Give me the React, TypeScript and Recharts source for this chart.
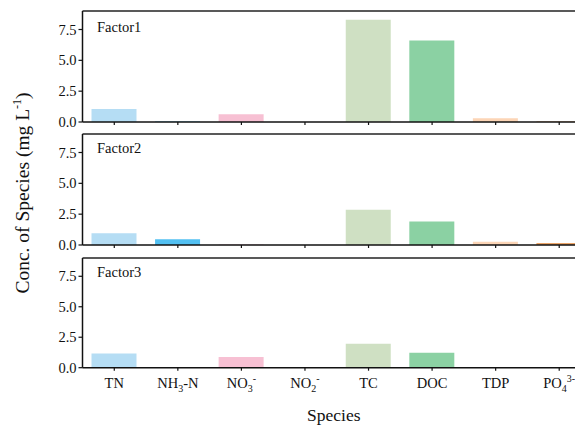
import React from 'react';
import { BarChart, Bar, XAxis, YAxis, Cell, ReferenceLine } from 'recharts';

const categories = ['TN', 'NH3-N', 'NO3-', 'NO2-', 'TC', 'DOC', 'TDP', 'PO43-'];
const factor1 = [1.06, 0.05, 0.63, 0, 8.29, 6.6, 0.3, 0.05];
const factor2 = [0.95, 0.46, 0.05, 0, 2.85, 1.9, 0.27, 0.17];
const factor3 = [1.17, 0, 0.87, 0.05, 1.96, 1.22, 0.03, 0.03];
const colors = ['#b5ddf4', '#52c0f2', '#f7c0d3', '#a3423f', '#cfe0c3', '#8bd1a3', '#fcd5b6', '#eba467'];
const yTicks = [0, 2.5, 5, 7.5];
const tickParts = [
  { base: 'TN' },
  { base: 'NH', sub: '3', rest: '-N' },
  { base: 'NO', sub: '3', sup: '-' },
  { base: 'NO', sub: '2', sup: '-' },
  { base: 'TC' },
  { base: 'DOC' },
  { base: 'TDP' },
  { base: 'PO', sub: '4', sup: '3-' },
];
const factorNames = ['Factor1', 'Factor2', 'Factor3'];

const FONT = 'Liberation Serif, Times New Roman, serif';

function SpeciesTick(props: any) {
  const { x, y, payload } = props;
  const idx = categories.indexOf(payload.value);
  const p: any = tickParts[idx] || { base: payload.value };
  return (
    <text x={x} y={y + 15} textAnchor="middle" fontFamily={FONT} fontSize={14.5} fill="#111">
      <tspan>{p.base}</tspan>
      {p.sub && <tspan fontSize={10} dy={4}>{p.sub}</tspan>}
      {p.rest && <tspan dy={-4}>{p.rest}</tspan>}
      {p.sup && <tspan fontSize={10} dy={-10}>{p.sup}</tspan>}
    </text>
  );
}

function Panel({ values, top, height, xHeight, showLabels }: any) {
  const data = categories.map((c, i) => ({ name: c, value: values[i] }));
  return (
    <div style={{ position: 'absolute', left: 0, top }}>
      <BarChart width={600} height={height} data={data} margin={{ top: 3, right: 17, left: 0, bottom: 0 }}>
        <XAxis
          dataKey="name"
          height={xHeight}
          interval={0}
          axisLine={{ stroke: '#111', strokeWidth: 1.5 }}
          tickLine={{ stroke: '#111', strokeWidth: 1.2 }}
          tickSize={3}
          tick={showLabels ? (p: any) => <SpeciesTick {...p} /> : () => <g />}
          label={showLabels ? { value: 'Species', position: 'insideBottom', offset: 4, fontFamily: FONT, fontSize: 17.5, fill: '#111', dx: -3 } : undefined}
        />
        <YAxis
          width={74.5}
          domain={[0, 9]}
          ticks={yTicks}
          interval={0}
          axisLine={{ stroke: '#111', strokeWidth: 1.5 }}
          tickLine={{ stroke: '#111', strokeWidth: 1.2 }}
          tickSize={4}
          tickFormatter={(v: number) => v.toFixed(1)}
          tick={{ fontFamily: FONT, fontSize: 14.5, fill: '#111' }}
        />
        <ReferenceLine y={9} stroke="#222" strokeWidth={1.5} />
        <Bar dataKey="value" barSize={45} isAnimationActive={false}>
          {data.map((d, i) => (
            <Cell key={d.name} fill={colors[i]} />
          ))}
        </Bar>
      </BarChart>
    </div>
  );
}

export default function App() {
  const panelTops = [0, 123, 247];
  return (
    <div style={{ position: 'relative', width: 575, height: 417, overflow: 'hidden', background: '#fff' }}>
      <Panel values={factor1} top={panelTops[0]} height={124} xHeight={10} showLabels={false} />
      <Panel values={factor2} top={panelTops[1]} height={124} xHeight={10} showLabels={false} />
      <Panel values={factor3} top={panelTops[2]} height={170} xHeight={57.3} showLabels={true} />
      <svg width={575} height={417} style={{ position: 'absolute', left: 0, top: 0, pointerEvents: 'none' }}>
        {factorNames.map((f, i) => (
          <text key={f} x={89} y={[23.5, 145, 269][i]} fontFamily={FONT} fontSize={14.5} fill="#111">
            {f}
          </text>
        ))}
        <text
          transform="translate(21, 185) rotate(-90)"
          textAnchor="middle"
          fontFamily={FONT}
          fontSize={19.5}
          fill="#111"
        >
          <tspan>Conc. of Species (mg L</tspan>
          <tspan fontSize={12} dy={-8}>-1</tspan>
          <tspan dy={8}>)</tspan>
        </text>
      </svg>
    </div>
  );
}
